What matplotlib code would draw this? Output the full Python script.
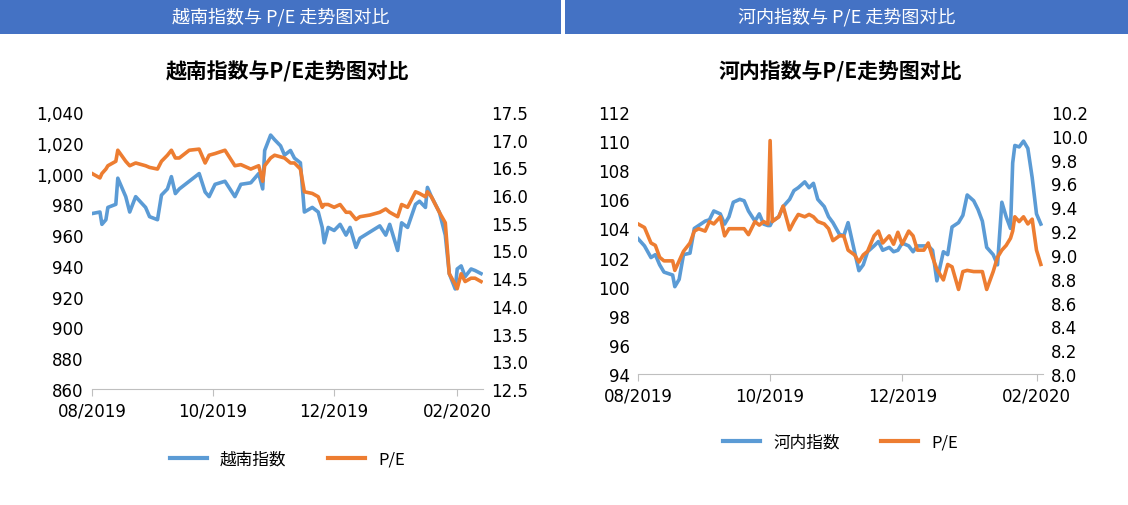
import matplotlib
matplotlib.use("Agg")
import matplotlib.pyplot as plt
import matplotlib.dates as mdates
from matplotlib import font_manager as fm
import pandas as pd
from matplotlib.lines import Line2D

BLUE, ORANGE, HEAD = "#5B9BD5", "#ED7D31", "#4472C4"

def cjk_font(bold=False):
    cands = [f for f in fm.fontManager.ttflist if "CJK" in f.name]
    pref = [f for f in cands if "SC" in f.name] or cands
    if bold:
        b = [f for f in pref if f.weight in (700, "bold")]
        if b:
            pref = b
    else:
        r = [f for f in pref if f.weight in (400, "normal", "regular")]
        if r:
            pref = r
    if pref:
        return pref[0].name
    return "DejaVu Sans"

CJK = cjk_font()
CJKB = cjk_font(True)

# ---- Vietnam index vs P/E ----
vn_dates = ["2019-08-01","2019-08-05","2019-08-06","2019-08-08","2019-08-09","2019-08-13","2019-08-14","2019-08-18",
            "2019-08-20","2019-08-23","2019-08-28","2019-08-30","2019-09-03","2019-09-05","2019-09-08","2019-09-10",
            "2019-09-12","2019-09-14","2019-09-19","2019-09-24","2019-09-27","2019-09-29","2019-10-02","2019-10-07",
            "2019-10-12","2019-10-15","2019-10-20","2019-10-24","2019-10-26","2019-10-27","2019-10-30","2019-11-01",
            "2019-11-04","2019-11-06","2019-11-09","2019-11-11","2019-11-14","2019-11-16","2019-11-20","2019-11-23",
            "2019-11-25","2019-11-26","2019-11-28","2019-12-01","2019-12-04","2019-12-07","2019-12-09","2019-12-12",
            "2019-12-14","2019-12-19","2019-12-24","2019-12-27","2019-12-29","2020-01-02","2020-01-04","2020-01-07",
            "2020-01-11","2020-01-13","2020-01-16","2020-01-17","2020-01-19","2020-01-23","2020-01-26","2020-01-28",
            "2020-01-31","2020-02-01","2020-02-03","2020-02-05","2020-02-08","2020-02-10","2020-02-13"]
vn_index = [974,975,967,970,978,980,997,985,975,985,978,972,970,986,990,998,987,990,995,1000,988,985,993,995,
            985,993,994,1000,990,1015,1025,1022,1018,1012,1015,1010,1007,975,978,975,965,955,965,963,967,960,
            965,952,958,962,966,960,967,950,968,965,980,982,978,991,985,975,960,935,925,938,940,933,938,937,935]
vn_pe = [16.39,16.31,16.39,16.47,16.53,16.61,16.81,16.61,16.53,16.58,16.53,16.50,16.47,16.61,16.72,16.81,16.67,
         16.67,16.81,16.83,16.58,16.72,16.75,16.81,16.53,16.55,16.47,16.53,16.25,16.53,16.67,16.72,16.69,16.67,
         16.58,16.58,16.47,16.06,16.03,15.97,15.78,15.83,15.83,15.78,15.83,15.69,15.69,15.56,15.61,15.64,15.69,
         15.75,15.69,15.61,15.83,15.78,16.06,16.03,15.97,16.06,15.97,15.69,15.50,14.58,14.39,14.31,14.58,14.44,
         14.50,14.50,14.44]

# ---- Hanoi index vs P/E ----
hn_dates = ["2019-08-01","2019-08-04","2019-08-07","2019-08-09","2019-08-11","2019-08-13","2019-08-17","2019-08-18",
            "2019-08-20","2019-08-22","2019-08-25","2019-08-27","2019-08-29","2019-09-01","2019-09-03","2019-09-05",
            "2019-09-08","2019-09-10","2019-09-12","2019-09-14","2019-09-17","2019-09-19","2019-09-21","2019-09-24",
            "2019-09-26","2019-09-28","2019-09-30","2019-10-01","2019-10-02","2019-10-05","2019-10-07","2019-10-10",
            "2019-10-12","2019-10-14","2019-10-17","2019-10-19","2019-10-21","2019-10-23","2019-10-26","2019-10-28",
            "2019-10-30","2019-11-02","2019-11-04","2019-11-06","2019-11-09","2019-11-11","2019-11-13","2019-11-15",
            "2019-11-18","2019-11-20","2019-11-22","2019-11-25","2019-11-27","2019-11-29","2019-12-01","2019-12-04",
            "2019-12-06","2019-12-08","2019-12-11","2019-12-13","2019-12-15","2019-12-17","2019-12-20","2019-12-22",
            "2019-12-24","2019-12-27","2019-12-29","2019-12-31","2020-01-03","2020-01-05","2020-01-07","2020-01-09",
            "2020-01-12","2020-01-14","2020-01-16","2020-01-18","2020-01-20","2020-01-21","2020-01-22","2020-01-24",
            "2020-01-26","2020-01-28","2020-01-30","2020-02-01","2020-02-03"]
hn_index = [103.3,102.8,102.0,102.2,101.5,101.0,100.8,100.0,100.5,102.2,102.3,104.0,104.2,104.5,104.6,105.2,105.0,
            104.3,104.8,105.8,106.0,105.9,105.2,104.5,105.0,104.3,104.2,104.2,104.5,104.8,105.5,106.0,106.6,106.8,
            107.2,106.8,107.1,106.0,105.5,104.8,104.4,103.6,103.5,104.4,102.4,101.1,101.5,102.4,102.8,103.1,102.5,
            102.7,102.4,102.5,103.0,102.8,102.4,102.8,102.8,102.8,102.5,100.4,102.4,102.2,104.1,104.4,104.9,106.3,
            105.9,105.3,104.5,102.7,102.2,101.5,105.8,104.8,104.0,108.5,109.7,109.6,110.0,109.5,107.5,105.0,104.3]
hn_pe = [9.26,9.23,9.10,9.08,8.98,8.95,8.95,8.87,8.95,9.03,9.10,9.20,9.22,9.20,9.28,9.26,9.32,9.16,9.22,9.22,9.22,
         9.22,9.17,9.28,9.25,9.28,9.26,9.96,9.28,9.32,9.41,9.21,9.28,9.34,9.32,9.34,9.32,9.28,9.26,9.22,9.12,9.16,
         9.16,9.04,9.00,8.94,9.00,9.03,9.16,9.20,9.10,9.16,9.09,9.19,9.09,9.20,9.16,9.04,9.04,9.10,8.98,8.88,8.79,
         8.92,8.90,8.71,8.86,8.87,8.86,8.86,8.86,8.71,8.86,8.98,9.04,9.08,9.14,9.20,9.32,9.28,9.32,9.26,9.30,9.04,8.92]

tick_dates = ["2019-08-01", "2019-10-01", "2019-12-01", "2020-02-01"]

fig = plt.figure(figsize=(11.28, 5.06), dpi=100)

for x0, w, txt in [(0.0, 0.497, "越南指数与 P/E 走势图对比"), (0.501, 0.499, "河内指数与 P/E 走势图对比")]:
    hax = fig.add_axes([x0, 1 - 35/506, w, 35/506])
    hax.set_facecolor(HEAD)
    hax.set_xticks([]); hax.set_yticks([])
    for s in hax.spines.values():
        s.set_visible(False)
    hax.text(0.5, 0.5, txt, color="white", fontsize=13, fontfamily=[CJK, "DejaVu Sans"], ha="center",
             va="center", transform=hax.transAxes)

def panel(rect, dates, idx, pe, title, name, ylim, yticks, fmt, y2lim, y2ticks, y2fmt, xend, title_y, leg_y):
    ax = fig.add_axes(rect)
    d = pd.to_datetime(dates)
    ax.plot(d, idx, color=BLUE, lw=2.6)
    ax2 = ax.twinx()
    ax2.plot(d, pe, color=ORANGE, lw=2.6)
    ax.set_xlim(pd.Timestamp("2019-08-01"), pd.Timestamp(xend))
    ax.set_ylim(*ylim); ax.set_yticks(yticks)
    ax.set_yticklabels([fmt(v) for v in yticks])
    ax2.set_ylim(*y2lim); ax2.set_yticks(y2ticks)
    ax2.set_yticklabels([y2fmt(v) for v in y2ticks])
    ax.set_xticks(pd.to_datetime(tick_dates))
    ax.xaxis.set_major_formatter(mdates.DateFormatter("%m/%Y"))
    for a in (ax, ax2):
        for s in ["top", "left", "right"]:
            a.spines[s].set_visible(False)
        a.spines["bottom"].set_color("#BFBFBF")
        a.tick_params(axis="y", length=0, labelsize=12, colors="#000000", pad=6)
    ax.tick_params(axis="x", length=5, color="#BFBFBF", labelsize=12, pad=4)
    ax2.spines["bottom"].set_visible(False)
    cx = rect[0] + rect[2] / 2
    fig.text(cx, title_y, title, fontfamily=[CJKB, "DejaVu Sans"], fontsize=15, fontweight="bold",
             ha="center", va="center")
    handles = [Line2D([], [], color=BLUE, lw=3), Line2D([], [], color=ORANGE, lw=3)]
    fig.legend(handles, [name, "P/E"], loc="center", bbox_to_anchor=(cx, leg_y), ncol=2, frameon=False,
               prop={"family": [CJK, "DejaVu Sans"], "size": 12}, handlelength=2.2, columnspacing=2.5)

panel([92/1128, 1-390/506, 391/1128, 277/506], vn_dates, vn_index, vn_pe, "越南指数与P/E走势图对比", "越南指数",
      (860, 1040), list(range(860, 1041, 20)), lambda v: f"{v:,}",
      (12.5, 17.5), [12.5 + 0.5*i for i in range(11)], lambda v: f"{v:.1f}", "2020-02-14",
      1-72/506, 1-460/506)
panel([638/1128, 1-375/506, 405/1128, 262/506], hn_dates, hn_index, hn_pe, "河内指数与P/E走势图对比", "河内指数",
      (94, 112), list(range(94, 113, 2)), lambda v: f"{v}",
      (8.0, 10.2), [8.0 + 0.2*i for i in range(12)], lambda v: f"{v:.1f}", "2020-02-04",
      1-72/506, 1-443/506)

fig.savefig("out.png", dpi=100)
